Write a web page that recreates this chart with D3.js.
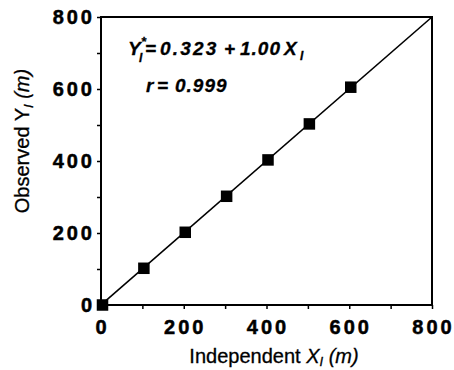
<!DOCTYPE html>
<html>
<head>
<meta charset="utf-8">
<script src="https://cdn.jsdelivr.net/npm/d3@7"></script>
<style>
  html, body { margin: 0; padding: 0; background: #fff; }
  svg { display: block; font-family: "Liberation Sans", Arial, Helvetica, sans-serif; }
</style>
</head>
<body>
<svg id="chart" width="454" height="370"></svg>
<script>
// Data
const xValues = [0, 100, 200, 300, 400, 500, 600];
const yValues = [0, 102, 202, 302, 403, 503, 605];
const fitLine = [[0, 0.323], [800, 800.323]];
const tickValues = [0, 200, 400, 600, 800];
const minorTicks = [0, 100, 200, 300, 400, 500, 600, 700, 800];

const svg = d3.select("#chart");
const x = d3.scaleLinear().domain([0, 800]).range([101, 432]);
const y = d3.scaleLinear().domain([0, 800]).range([305, 17]);

// frame
svg.append("rect")
  .attr("x", x(0)).attr("y", y(800))
  .attr("width", x(800) - x(0)).attr("height", y(0) - y(800))
  .attr("fill", "none").attr("stroke", "#000").attr("stroke-width", 2);

// minor/major ticks (outward)
const xAxis = d3.axisBottom(x).tickValues(minorTicks).tickSize(4).tickFormat("");
const yAxis = d3.axisLeft(y).tickValues(minorTicks).tickSize(4).tickFormat("");
const gx = svg.append("g").attr("transform", `translate(0,${y(0)})`).call(xAxis);
const gy = svg.append("g").attr("transform", `translate(${x(0)},0)`).call(yAxis);
[gx, gy].forEach(g => {
  g.select(".domain").remove();
  g.selectAll(".tick line").attr("stroke", "#000").attr("stroke-width", 1.5);
});

// tick labels
svg.append("g").selectAll("text").data(tickValues).join("text")
  .attr("x", d => x(d) + 1.5)
  .attr("y", 334)
  .attr("text-anchor", "middle")
  .attr("font-size", 20).attr("font-weight", "bold")
  .attr("letter-spacing", 3)
  .attr("stroke", "#000").attr("stroke-width", 0.5)
  .text(d => d);

svg.append("g").selectAll("text").data(tickValues).join("text")
  .attr("x", 95)
  .attr("y", d => y(d) + 7)
  .attr("text-anchor", "end")
  .attr("font-size", 20).attr("font-weight", "bold")
  .attr("letter-spacing", 3)
  .attr("stroke", "#000").attr("stroke-width", 0.5)
  .text(d => d);

// fit line
svg.append("path")
  .attr("d", d3.line().x(d => x(d[0])).y(d => y(Math.min(d[1], 800)))(fitLine))
  .attr("fill", "none").attr("stroke", "#000").attr("stroke-width", 1.6);

// markers
const s = 11.5;
svg.append("g").selectAll("rect").data(xValues.map((v, i) => [v, yValues[i]])).join("rect")
  .attr("x", d => x(d[0]) - s / 2 + 1.5)
  .attr("y", d => y(d[1]) - s / 2)
  .attr("width", s).attr("height", s)
  .attr("fill", "#000");

// equation
const eq = svg.append("text")
  .attr("y", 55)
  .attr("font-size", 19).attr("font-weight", "bold").attr("font-style", "italic")
  .attr("stroke", "#000").attr("stroke-width", 0.3);
eq.append("tspan").attr("x", 128).text("Y");
eq.append("tspan").attr("x", 141).attr("y", 46).attr("font-size", 13).text("*");
eq.append("tspan").attr("x", 139).attr("y", 62).attr("font-size", 12).text("I");
eq.append("tspan").attr("x", 145).attr("y", 55).text("=");
eq.append("tspan").attr("x", 160).attr("letter-spacing", 2.2).text("0.323");
eq.append("tspan").attr("x", 224).text("+");
eq.append("tspan").attr("x", 240).attr("letter-spacing", 1).text("1.00");
eq.append("tspan").attr("x", 284).text("X");
eq.append("tspan").attr("x", 300).attr("y", 60).attr("font-size", 12).text("I");

const rt = svg.append("text")
  .attr("y", 92)
  .attr("font-size", 19).attr("font-weight", "bold").attr("font-style", "italic")
  .attr("stroke", "#000").attr("stroke-width", 0.3);
rt.append("tspan").attr("x", 146).text("r");
rt.append("tspan").attr("x", 157).text("=");
rt.append("tspan").attr("x", 175).attr("letter-spacing", 1).text("0.999");

// axis titles
const xt = svg.append("text")
  .attr("x", 274).attr("y", 363)
  .attr("text-anchor", "middle")
  .attr("font-size", 20)
  .attr("stroke", "#000").attr("stroke-width", 0.3);
xt.append("tspan").text("Independent ");
xt.append("tspan").attr("font-style", "italic").text("X");
xt.append("tspan").attr("font-style", "italic").attr("font-size", 13).attr("dy", 3).text("I");
xt.append("tspan").attr("font-style", "italic").attr("dy", -3).text(" (m)");

const yt = svg.append("text")
  .attr("transform", "translate(29,141) rotate(-90)")
  .attr("text-anchor", "middle")
  .attr("font-size", 20)
  .attr("stroke", "#000").attr("stroke-width", 0.3);
yt.append("tspan").text("Observed ");
yt.append("tspan").text("Y");
yt.append("tspan").attr("font-style", "italic").attr("font-size", 13).attr("dy", 4).text("I");
yt.append("tspan").attr("font-style", "italic").attr("dy", -4).text(" (m)");
</script>
</body>
</html>
